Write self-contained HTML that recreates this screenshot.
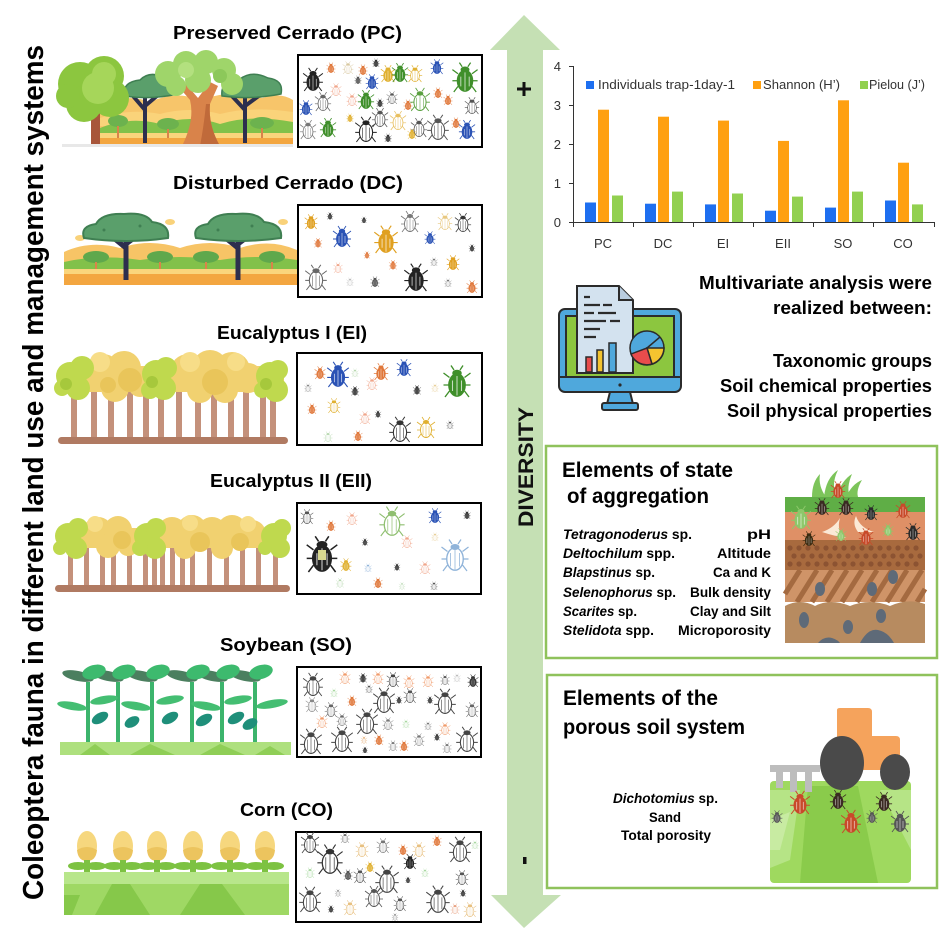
<!DOCTYPE html>
<html><head><meta charset="utf-8"><style>
html,body{margin:0;padding:0;background:#fff;}
svg{display:block;}
text{font-family:"Liberation Sans",Arial,sans-serif;}
</style></head><body>
<svg width="945" height="945" viewBox="0 0 945 945" xmlns="http://www.w3.org/2000/svg">
<defs>
<g id="b1">
<path d="M-5 -3L-9 -6M5 -3L9 -6M-5 2L-9 2M5 2L9 2M-5 6L-8 10M5 6L8 10M-2 -8L-4 -11M2 -8L4 -11" stroke="currentColor" stroke-width=".8" fill="none"/>
<ellipse cx="0" cy="2" rx="5.5" ry="7.5" fill="#fff" stroke="currentColor" stroke-width=".9"/>
<ellipse cx="0" cy="-6" rx="3" ry="2" fill="currentColor"/>
<path d="M0 -4V9M-3 -2V7M3 -2V7" stroke="currentColor" stroke-width=".5"/>
</g>
<g id="b2">
<path d="M-5 -3L-9 -6M5 -3L9 -6M-5 2L-9 2M5 2L9 2M-5 6L-8 10M5 6L8 10M-2 -8L-4 -11M2 -8L4 -11" stroke="currentColor" stroke-width=".9" fill="none"/>
<ellipse cx="0" cy="2" rx="5.5" ry="7.5" fill="currentColor" stroke="currentColor" stroke-width=".8"/>
<ellipse cx="0" cy="-6" rx="3.2" ry="2.2" fill="currentColor"/>
<path d="M0 -4V9M-3 -1V6M3 -1V6" stroke="#fff" stroke-width=".7" opacity=".7"/>
</g>
</defs>

<!-- Big vertical arrow -->
<polygon points="524,15 560,50 543,50 543,895 561,895 524,928 491,895 507,895 507,50 490,50" fill="#c5e0b4"/>
<rect x="517" y="87.5" width="14" height="3" fill="#111"/>
<rect x="522.5" y="82" width="3" height="14" fill="#111"/>
<rect x="523" y="857" width="3.5" height="7" fill="#111"/>
<text transform="translate(533,527) rotate(-90)" font-size="21" font-weight="bold" textLength="120" lengthAdjust="spacingAndGlyphs" fill="#111">DIVERSITY</text>

<!-- Left vertical title -->
<text transform="translate(43,900) rotate(-90)" font-size="29" font-weight="bold" textLength="855" lengthAdjust="spacingAndGlyphs" fill="#000">Coleoptera fauna in different land use and management systems</text>

<!-- Section titles -->
<g font-size="18" font-weight="bold" fill="#000">
<text x="173" y="39" textLength="229" lengthAdjust="spacingAndGlyphs">Preserved Cerrado (PC)</text>
<text x="173" y="189" textLength="230" lengthAdjust="spacingAndGlyphs">Disturbed Cerrado (DC)</text>
<text x="217" y="339" textLength="150" lengthAdjust="spacingAndGlyphs">Eucalyptus I (EI)</text>
<text x="210" y="487" textLength="162" lengthAdjust="spacingAndGlyphs">Eucalyptus II (EII)</text>
<text x="220" y="651" textLength="132" lengthAdjust="spacingAndGlyphs">Soybean (SO)</text>
<text x="240" y="816" textLength="93" lengthAdjust="spacingAndGlyphs">Corn (CO)</text>
</g>

<!-- ============ PC landscape ============ -->
<g>
<path d="M100 146 L100 108 Q125 92 150 102 Q175 90 200 100 Q235 88 262 98 Q280 92 293 100 L293 146 Z" fill="#f7c56a"/>
<path d="M100 118 Q130 108 160 114 Q190 106 220 114 Q250 106 293 112 L293 126 L100 126 Z" fill="#fad37a"/>
<path d="M100 128 Q130 116 160 124 Q190 114 220 124 Q250 114 293 122 L293 134 L100 134 Z" fill="#82c14a"/>
<rect x="100" y="133" width="193" height="5" fill="#fad57c"/>
<rect x="100" y="138" width="193" height="8" fill="#f3a640"/>
<!-- acacia left -->
<path d="M145 143 L145 97 M145 110 L133 96 M145 106 L158 95" stroke="#2d2f4e" stroke-width="4" fill="none"/>
<path d="M124 96 Q122 82 140 80 Q150 70 165 78 Q180 80 178 94 Q150 100 124 96Z" fill="#5a9f6b" stroke="#3f7f52" stroke-width="1.5"/>
<!-- acacia right -->
<path d="M245 143 L245 97 M245 110 L232 96 M245 106 L260 95" stroke="#2d2f4e" stroke-width="4" fill="none"/>
<path d="M222 96 Q220 80 240 79 Q252 70 268 78 Q284 80 281 94 Q250 100 222 96Z" fill="#5a9f6b" stroke="#3f7f52" stroke-width="1.5"/>
<!-- central tree trunk -->
<path d="M182 146 Q195 120 190 100 L178 86 L186 84 L198 98 L210 82 L218 86 L210 104 Q208 125 220 146 Z" fill="#d9834a"/>
<path d="M200 146 Q204 125 206 104 L210 104 Q208 125 220 146Z" fill="#c06a3a"/>
<g fill="#9fd56a">
<circle cx="168" cy="74" r="13"/><circle cx="186" cy="64" r="13"/><circle cx="206" cy="62" r="12"/><circle cx="224" cy="70" r="12"/><circle cx="232" cy="84" r="11"/><circle cx="198" cy="80" r="13"/><circle cx="176" cy="86" r="10"/>
</g>
<circle cx="186" cy="70" r="8" fill="#b3e07f"/><circle cx="220" cy="76" r="7" fill="#8cc85a"/>
<!-- bushes -->
<g fill="#6cb24e"><ellipse cx="118" cy="121" rx="10" ry="6"/><ellipse cx="168" cy="124" rx="11" ry="6"/><ellipse cx="262" cy="123" rx="12" ry="6"/></g>
<g stroke="#d9834a" stroke-width="2"><path d="M118 126V138M168 129V138M262 128V138"/></g>
<!-- big left tree -->
<rect x="91" y="112" width="9" height="34" fill="#a8563a"/>
<g fill="#8cc63f"><circle cx="80" cy="84" r="22"/><circle cx="104" cy="76" r="20"/><circle cx="110" cy="98" r="19"/><circle cx="84" cy="104" r="18"/><circle cx="68" cy="96" r="12"/></g>
<g fill="#a6d65a"><circle cx="98" cy="88" r="16"/><circle cx="104" cy="74" r="12"/></g>
<rect x="62" y="144" width="231" height="3" fill="#e8e8e8"/>
</g>

<!-- ============ DC landscape ============ -->
<g>
<path d="M64 285 L64 252 Q90 240 120 248 Q150 238 180 248 Q210 238 240 248 Q270 238 297 250 L297 285 Z" fill="#f7c466"/>
<path d="M64 262 Q100 254 140 260 Q180 254 220 260 Q260 254 297 260 L297 269 L64 269Z" fill="#82c14a"/>
<g fill="#5fa84c"><ellipse cx="96" cy="257" rx="13" ry="6"/><ellipse cx="160" cy="257" rx="13" ry="6"/><ellipse cx="206" cy="257" rx="13" ry="6"/><ellipse cx="272" cy="257" rx="13" ry="6"/></g>
<g stroke="#d9834a" stroke-width="2"><path d="M96 262V270M160 262V270M206 262V270M272 262V270"/></g>
<rect x="64" y="269" width="233" height="5" fill="#fad57c"/>
<rect x="64" y="274" width="233" height="11" fill="#f3a640"/>
<g fill="#f9d27a"><ellipse cx="80" cy="238" rx="5" ry="3"/><ellipse cx="170" cy="222" rx="5" ry="3"/><ellipse cx="283" cy="222" rx="5" ry="3"/></g>
<path d="M126 280 L126 232 M126 248 L110 235 M126 244 L142 232" stroke="#2d2f4e" stroke-width="5" fill="none"/>
<path d="M238 280 L238 232 M238 248 L222 235 M238 244 L254 232" stroke="#2d2f4e" stroke-width="5" fill="none"/>
<path d="M84 238 Q80 226 96 224 Q102 213 124 214 Q146 212 152 222 Q170 224 168 238 Q126 244 84 238Z" fill="#5a9f6b" stroke="#3f7f52" stroke-width="2"/>
<path d="M196 238 Q192 226 208 224 Q214 213 236 214 Q258 212 264 222 Q283 224 281 238 Q238 244 196 238Z" fill="#5a9f6b" stroke="#3f7f52" stroke-width="2"/>
<g fill="#3f7f52"><circle cx="104" cy="230" r="1.5"/><circle cx="140" cy="226" r="1.5"/><circle cx="218" cy="230" r="1.5"/><circle cx="252" cy="226" r="1.5"/></g>
</g>

<!-- ============ EI landscape ============ -->
<g>
<g fill="#c4917b">
<rect x="71" y="392" width="6" height="48"/><rect x="91" y="392" width="6" height="48"/><rect x="108" y="392" width="6" height="48"/><rect x="127" y="392" width="6" height="48"/><rect x="143" y="392" width="6" height="48"/><rect x="158" y="392" width="6" height="48"/><rect x="176" y="392" width="6" height="48"/><rect x="195" y="392" width="6" height="48"/><rect x="211" y="392" width="6" height="48"/><rect x="228" y="392" width="6" height="48"/><rect x="243" y="392" width="6" height="48"/><rect x="260" y="392" width="6" height="48"/><rect x="270" y="392" width="6" height="48"/>
</g>
<rect x="62" y="366" width="222" height="26" fill="#f1d170"/>
<g fill="#f1d170">
<circle cx="103" cy="372" r="18"/><circle cx="124" cy="368" r="17"/><circle cx="115" cy="388" r="14"/><circle cx="140" cy="385" r="12"/>
<circle cx="188" cy="372" r="18"/><circle cx="210" cy="368" r="18"/><circle cx="232" cy="370" r="18"/><circle cx="248" cy="378" r="15"/><circle cx="200" cy="390" r="13"/><circle cx="225" cy="390" r="13"/>
</g>
<g fill="#e9c55a"><circle cx="130" cy="380" r="12"/><circle cx="215" cy="382" r="13"/><circle cx="108" cy="385" r="8"/></g>
<g fill="#f7dd88"><circle cx="100" cy="362" r="10"/><circle cx="190" cy="362" r="10"/><circle cx="236" cy="362" r="9"/></g>
<g fill="#bfd94e">
<circle cx="70" cy="376" r="14"/><circle cx="82" cy="368" r="12"/><circle cx="78" cy="388" r="12"/><circle cx="62" cy="388" r="8"/>
<circle cx="156" cy="374" r="14"/><circle cx="166" cy="368" r="11"/><circle cx="164" cy="388" r="12"/><circle cx="150" cy="390" r="9"/>
<circle cx="270" cy="376" r="14"/><circle cx="278" cy="370" r="10"/><circle cx="276" cy="390" r="12"/><circle cx="262" cy="390" r="8"/>
</g>
<g fill="#a6c83c"><circle cx="66" cy="384" r="6"/><circle cx="152" cy="382" r="6"/><circle cx="266" cy="384" r="6"/></g>
<rect x="58" y="437" width="230" height="7" rx="3.5" fill="#b07a62"/>
</g>

<!-- ============ EII landscape ============ -->
<g>
<g fill="#c4917b">
<rect x="68" y="548" width="5" height="40"/><rect x="84" y="548" width="5" height="40"/><rect x="100" y="548" width="5" height="40"/><rect x="111" y="548" width="5" height="40"/><rect x="127" y="548" width="5" height="40"/><rect x="143" y="548" width="5" height="40"/><rect x="152" y="548" width="5" height="40"/><rect x="160" y="548" width="5" height="40"/><rect x="170" y="548" width="5" height="40"/><rect x="180" y="548" width="5" height="40"/><rect x="190" y="548" width="5" height="40"/><rect x="207" y="548" width="5" height="40"/><rect x="224" y="548" width="5" height="40"/><rect x="240" y="548" width="5" height="40"/><rect x="256" y="548" width="5" height="40"/><rect x="273" y="548" width="5" height="40"/>
</g>
<rect x="60" y="528" width="226" height="20" fill="#f1d170"/>
<g fill="#f1d170">
<circle cx="98" cy="532" r="15"/><circle cx="118" cy="530" r="14"/><circle cx="108" cy="546" r="12"/>
<circle cx="172" cy="532" r="15"/><circle cx="192" cy="530" r="15"/><circle cx="212" cy="532" r="15"/><circle cx="232" cy="530" r="15"/><circle cx="252" cy="534" r="14"/><circle cx="185" cy="548" r="11"/><circle cx="222" cy="548" r="11"/><circle cx="128" cy="546" r="10"/>
</g>
<g fill="#e9c55a"><circle cx="122" cy="540" r="9"/><circle cx="200" cy="542" r="10"/><circle cx="240" cy="542" r="9"/></g>
<g fill="#f7dd88"><circle cx="95" cy="524" r="8"/><circle cx="190" cy="523" r="8"/><circle cx="248" cy="524" r="8"/></g>
<g fill="#bfd94e">
<circle cx="68" cy="536" r="13"/><circle cx="78" cy="528" r="10"/><circle cx="76" cy="548" r="11"/><circle cx="60" cy="548" r="7"/>
<circle cx="147" cy="536" r="13"/><circle cx="156" cy="528" r="10"/><circle cx="155" cy="548" r="11"/><circle cx="140" cy="548" r="8"/>
<circle cx="274" cy="536" r="13"/><circle cx="282" cy="528" r="9"/><circle cx="280" cy="548" r="10"/><circle cx="265" cy="548" r="7"/>
</g>
<rect x="55" y="585" width="235" height="7" rx="3.5" fill="#b07a62"/>
</g>

<!-- ============ SO landscape ============ -->
<g>
<rect x="60" y="742" width="231" height="13" fill="#aee07e"/>
<g fill="#8fce56"><polygon points="80,755 95,744 110,755"/><polygon points="130,755 150,744 175,755"/><polygon points="200,755 220,744 245,755"/><polygon points="255,755 270,746 285,755"/></g>
<g stroke="#3cb46c" stroke-width="4" fill="none">
<path d="M88 742V682M118 742V682M152 742V682M192 742V682M222 742V682M255 742V682"/>
</g>
<g fill="#4b7f5f">
<ellipse cx="78" cy="676" rx="16" ry="5" transform="rotate(12 78 676)"/><ellipse cx="108" cy="676" rx="16" ry="5" transform="rotate(12 108 676)"/><ellipse cx="142" cy="676" rx="16" ry="5" transform="rotate(12 142 676)"/><ellipse cx="182" cy="676" rx="16" ry="5" transform="rotate(12 182 676)"/><ellipse cx="212" cy="676" rx="16" ry="5" transform="rotate(12 212 676)"/><ellipse cx="245" cy="676" rx="16" ry="5" transform="rotate(12 245 676)"/>
</g>
<g fill="#3dba6e">
<ellipse cx="94" cy="672" rx="12" ry="7" transform="rotate(-15 94 672)"/><ellipse cx="124" cy="672" rx="12" ry="7" transform="rotate(-15 124 672)"/><ellipse cx="158" cy="672" rx="12" ry="7" transform="rotate(-15 158 672)"/><ellipse cx="198" cy="672" rx="12" ry="7" transform="rotate(-15 198 672)"/><ellipse cx="228" cy="672" rx="12" ry="7" transform="rotate(-15 228 672)"/><ellipse cx="261" cy="672" rx="12" ry="7" transform="rotate(-15 261 672)"/>
</g>
<g fill="#44be72">
<ellipse cx="72" cy="706" rx="15" ry="4" transform="rotate(10 72 706)"/><ellipse cx="104" cy="700" rx="14" ry="4" transform="rotate(-10 104 700)"/><ellipse cx="136" cy="706" rx="15" ry="4" transform="rotate(10 136 706)"/><ellipse cx="170" cy="700" rx="14" ry="4" transform="rotate(-10 170 700)"/><ellipse cx="206" cy="706" rx="15" ry="4" transform="rotate(10 206 706)"/><ellipse cx="238" cy="700" rx="14" ry="4" transform="rotate(-10 238 700)"/><ellipse cx="272" cy="704" rx="16" ry="4" transform="rotate(-10 272 704)"/>
</g>
<g fill="#1f8f7a">
<ellipse cx="100" cy="718" rx="9" ry="5" transform="rotate(-30 100 718)"/><ellipse cx="132" cy="722" rx="8" ry="5" transform="rotate(-30 132 722)"/><ellipse cx="170" cy="718" rx="9" ry="5" transform="rotate(-30 170 718)"/><ellipse cx="204" cy="720" rx="9" ry="5" transform="rotate(-30 204 720)"/><ellipse cx="236" cy="718" rx="9" ry="5" transform="rotate(-30 236 718)"/><ellipse cx="250" cy="724" rx="8" ry="5" transform="rotate(-30 250 724)"/>
</g>
</g>

<!-- ============ CO landscape ============ -->
<g>
<rect x="64" y="872" width="225" height="43" fill="#9fd864"/>
<rect x="64" y="872" width="225" height="12" fill="#b8e68b"/>
<g fill="#86c84a"><polygon points="95,915 112,884 130,884 150,915"/><polygon points="180,915 200,884 222,884 245,915"/><polygon points="64,895 80,895 72,915 64,915"/></g>
<g fill="#f6d77e">
<ellipse cx="87" cy="846" rx="10" ry="15"/><ellipse cx="123" cy="846" rx="10" ry="15"/><ellipse cx="157" cy="846" rx="10" ry="15"/><ellipse cx="193" cy="846" rx="10" ry="15"/><ellipse cx="230" cy="846" rx="10" ry="15"/><ellipse cx="265" cy="846" rx="10" ry="15"/>
</g>
<g fill="#ecc45e">
<path d="M77 850 Q87 844 97 850 Q96 861 87 861 Q78 861 77 850Z"/><path d="M113 850 Q123 844 133 850 Q132 861 123 861 Q114 861 113 850Z"/><path d="M147 850 Q157 844 167 850 Q166 861 157 861 Q148 861 147 850Z"/><path d="M183 850 Q193 844 203 850 Q202 861 193 861 Q184 861 183 850Z"/><path d="M220 850 Q230 844 240 850 Q239 861 230 861 Q221 861 220 850Z"/><path d="M255 850 Q265 844 275 850 Q274 861 265 861 Q256 861 255 850Z"/>
</g>
<g fill="#7dc242">
<ellipse cx="78" cy="866" rx="10" ry="4"/><ellipse cx="96" cy="866" rx="10" ry="4"/><rect x="84" y="860" width="6" height="12"/>
<ellipse cx="114" cy="866" rx="10" ry="4"/><ellipse cx="132" cy="866" rx="10" ry="4"/><rect x="120" y="860" width="6" height="12"/>
<ellipse cx="148" cy="866" rx="10" ry="4"/><ellipse cx="166" cy="866" rx="10" ry="4"/><rect x="154" y="860" width="6" height="12"/>
<ellipse cx="184" cy="866" rx="10" ry="4"/><ellipse cx="202" cy="866" rx="10" ry="4"/><rect x="190" y="860" width="6" height="12"/>
<ellipse cx="221" cy="866" rx="10" ry="4"/><ellipse cx="239" cy="866" rx="10" ry="4"/><rect x="227" y="860" width="6" height="12"/>
<ellipse cx="256" cy="866" rx="10" ry="4"/><ellipse cx="274" cy="866" rx="10" ry="4"/><rect x="262" y="860" width="6" height="12"/>
</g>
</g>

<!-- ============ Beetle boxes ============ -->
<g fill="#fff" stroke="#000" stroke-width="2">
<rect x="298" y="55" width="184" height="92"/>
<rect x="298" y="205" width="184" height="92"/>
<rect x="297" y="353" width="185" height="92"/>
<rect x="297" y="503" width="184" height="91"/>
<rect x="297" y="667" width="184" height="90"/>
<rect x="296" y="832" width="185" height="90"/>
</g>

<!-- PC beetles -->
<g>
<use href="#b2" transform="translate(313 80) scale(1.1)" color="#222"/>
<use href="#b2" transform="translate(331 68) scale(.5)" color="#e0773a"/>
<use href="#b1" transform="translate(348 68) scale(.6)" color="#d8c8a0"/>
<use href="#b2" transform="translate(363 70) scale(.5)" color="#e0773a"/>
<use href="#b2" transform="translate(376 63) scale(.4)" color="#333"/>
<use href="#b2" transform="translate(388 74) scale(.8)" color="#e0b030"/>
<use href="#b2" transform="translate(400 73) scale(.9)" color="#3f8f2a"/>
<use href="#b1" transform="translate(415 74) scale(.8)" color="#e0b030"/>
<use href="#b2" transform="translate(437 67) scale(.7)" color="#2a52b5"/>
<use href="#b2" transform="translate(465 78) scale(1.4)" color="#3f8f2a"/>
<use href="#b2" transform="translate(306 108) scale(.7)" color="#2a52b5"/>
<use href="#b1" transform="translate(323 102) scale(.9)" color="#666"/>
<use href="#b1" transform="translate(336 90) scale(.6)" color="#f0a58a"/>
<use href="#b1" transform="translate(352 100) scale(.6)" color="#f0a58a"/>
<use href="#b2" transform="translate(358 80) scale(.4)" color="#555"/>
<use href="#b2" transform="translate(372 82) scale(.7)" color="#2a52b5"/>
<use href="#b2" transform="translate(366 100) scale(.9)" color="#3f8f2a"/>
<use href="#b2" transform="translate(380 103) scale(.4)" color="#333"/>
<use href="#b1" transform="translate(392 98) scale(.6)" color="#555"/>
<use href="#b2" transform="translate(408 105) scale(.5)" color="#e0773a"/>
<use href="#b1" transform="translate(420 100) scale(1.1)" color="#5aa040"/>
<use href="#b2" transform="translate(438 93) scale(.5)" color="#e0773a"/>
<use href="#b2" transform="translate(448 100) scale(.5)" color="#e0773a"/>
<use href="#b1" transform="translate(472 106) scale(.8)" color="#555"/>
<use href="#b1" transform="translate(308 130) scale(.9)" color="#777"/>
<use href="#b2" transform="translate(328 128) scale(.9)" color="#3f8f2a"/>
<use href="#b2" transform="translate(350 118) scale(.4)" color="#e0b030"/>
<use href="#b1" transform="translate(366 130) scale(1.2)" color="#222"/>
<use href="#b1" transform="translate(380 118) scale(.9)" color="#555"/>
<use href="#b1" transform="translate(398 121) scale(.9)" color="#e8c060"/>
<use href="#b1" transform="translate(419 128) scale(.9)" color="#555"/>
<use href="#b1" transform="translate(438 128) scale(1.2)" color="#555"/>
<use href="#b2" transform="translate(456 123) scale(.5)" color="#e0773a"/>
<use href="#b2" transform="translate(467 130) scale(.9)" color="#2a52b5"/>
<use href="#b2" transform="translate(388 138) scale(.4)" color="#333"/>
<use href="#b2" transform="translate(412 134) scale(.5)" color="#e0b030"/>
</g>
<!-- DC beetles -->
<g>
<use href="#b2" transform="translate(311 222) scale(.7)" color="#e0a020"/>
<use href="#b2" transform="translate(330 216) scale(.35)" color="#333"/>
<use href="#b2" transform="translate(342 237) scale(1)" color="#2a52b5"/>
<use href="#b2" transform="translate(364 220) scale(.3)" color="#333"/>
<use href="#b2" transform="translate(318 243) scale(.45)" color="#e0773a"/>
<use href="#b2" transform="translate(386 240) scale(1.3)" color="#e0a020"/>
<use href="#b1" transform="translate(410 222) scale(1)" color="#777"/>
<use href="#b1" transform="translate(445 222) scale(.8)" color="#e8c880"/>
<use href="#b1" transform="translate(463 223) scale(.9)" color="#333"/>
<use href="#b2" transform="translate(430 238) scale(.6)" color="#2a52b5"/>
<use href="#b2" transform="translate(472 248) scale(.35)" color="#333"/>
<use href="#b2" transform="translate(367 255) scale(.35)" color="#e0773a"/>
<use href="#b1" transform="translate(338 268) scale(.5)" color="#f0a58a"/>
<use href="#b1" transform="translate(316 278) scale(1.2)" color="#666"/>
<use href="#b1" transform="translate(350 282) scale(.4)" color="#bbb"/>
<use href="#b2" transform="translate(375 282) scale(.5)" color="#555"/>
<use href="#b2" transform="translate(393 265) scale(.45)" color="#e0773a"/>
<use href="#b2" transform="translate(416 278) scale(1.3)" color="#222"/>
<use href="#b1" transform="translate(434 262) scale(.4)" color="#777"/>
<use href="#b2" transform="translate(453 263) scale(.7)" color="#e0a020"/>
<use href="#b1" transform="translate(448 283) scale(.4)" color="#777"/>
<use href="#b2" transform="translate(472 287) scale(.6)" color="#e0773a"/>
</g>
<!-- EI beetles -->
<g>
<use href="#b2" transform="translate(320 373) scale(.6)" color="#e0773a"/>
<use href="#b2" transform="translate(338 375) scale(1.2)" color="#2a52b5"/>
<use href="#b1" transform="translate(355 373) scale(.4)" color="#b8d8b0"/>
<use href="#b2" transform="translate(381 372) scale(.8)" color="#e0773a"/>
<use href="#b2" transform="translate(404 368) scale(.8)" color="#2a52b5"/>
<use href="#b2" transform="translate(457 382) scale(1.5)" color="#3f8f2a"/>
<use href="#b1" transform="translate(308 388) scale(.4)" color="#888"/>
<use href="#b2" transform="translate(355 391) scale(.45)" color="#333"/>
<use href="#b1" transform="translate(372 384) scale(.6)" color="#f0a58a"/>
<use href="#b2" transform="translate(417 390) scale(.45)" color="#333"/>
<use href="#b1" transform="translate(435 388) scale(.4)" color="#e8d09a"/>
<use href="#b2" transform="translate(312 409) scale(.5)" color="#e0773a"/>
<use href="#b1" transform="translate(334 406) scale(.7)" color="#e0b030"/>
<use href="#b1" transform="translate(365 418) scale(.6)" color="#f0a58a"/>
<use href="#b2" transform="translate(378 414) scale(.35)" color="#333"/>
<use href="#b1" transform="translate(400 430) scale(1.2)" color="#333"/>
<use href="#b1" transform="translate(426 428) scale(1)" color="#e0b030"/>
<use href="#b1" transform="translate(450 425) scale(.4)" color="#555"/>
<use href="#b1" transform="translate(328 437) scale(.5)" color="#b8d8b0"/>
<use href="#b2" transform="translate(358 436) scale(.5)" color="#e0773a"/>
</g>
<!-- EII beetles -->
<g>
<use href="#b1" transform="translate(307 517) scale(.7)" color="#555"/>
<use href="#b2" transform="translate(331 526) scale(.5)" color="#e0773a"/>
<use href="#b1" transform="translate(352 519) scale(.6)" color="#f0a58a"/>
<use href="#b1" transform="translate(392 522) scale(1.4)" color="#8fbf70"/>
<use href="#b2" transform="translate(435 516) scale(.7)" color="#2a52b5"/>
<use href="#b2" transform="translate(467 515) scale(.4)" color="#333"/>
<use href="#b2" transform="translate(322 555) scale(1.7)" color="#222"/>
<rect x="318" y="550" width="8" height="10" fill="#d8d890"/>
<use href="#b2" transform="translate(365 542) scale(.35)" color="#333"/>
<use href="#b1" transform="translate(407 542) scale(.6)" color="#f0a58a"/>
<use href="#b1" transform="translate(435 537) scale(.4)" color="#e8d09a"/>
<use href="#b1" transform="translate(455 556) scale(1.5)" color="#8fb3d9"/>
<use href="#b2" transform="translate(346 565) scale(.6)" color="#e0b030"/>
<use href="#b1" transform="translate(368 568) scale(.4)" color="#8fb3d9"/>
<use href="#b2" transform="translate(397 567) scale(.35)" color="#333"/>
<use href="#b1" transform="translate(425 568) scale(.6)" color="#f0a58a"/>
<use href="#b1" transform="translate(340 583) scale(.45)" color="#b8d8b0"/>
<use href="#b2" transform="translate(378 583) scale(.5)" color="#e0773a"/>
<use href="#b1" transform="translate(402 586) scale(.35)" color="#b8d8b0"/>
<use href="#b1" transform="translate(434 586) scale(.4)" color="#555"/>
</g>
<!-- SO beetles -->
<g>
<use href="#b1" transform="translate(313 685) scale(1.1)" color="#444"/>
<use href="#b1" transform="translate(345 678) scale(.6)" color="#f09a6a"/>
<use href="#b2" transform="translate(363 678) scale(.45)" color="#333"/>
<use href="#b1" transform="translate(378 678) scale(.6)" color="#f09a6a"/>
<use href="#b1" transform="translate(393 680) scale(.7)" color="#444"/>
<use href="#b1" transform="translate(409 682) scale(.6)" color="#f09a6a"/>
<use href="#b1" transform="translate(428 681) scale(.6)" color="#f09a6a"/>
<use href="#b1" transform="translate(445 680) scale(.5)" color="#555"/>
<use href="#b1" transform="translate(457 678) scale(.4)" color="#bbb"/>
<use href="#b2" transform="translate(473 681) scale(.6)" color="#333"/>
<use href="#b1" transform="translate(369 689) scale(.4)" color="#555"/>
<use href="#b1" transform="translate(312 705) scale(.7)" color="#888"/>
<use href="#b1" transform="translate(331 710) scale(.7)" color="#666"/>
<use href="#b1" transform="translate(334 693) scale(.4)" color="#a8d8a0"/>
<use href="#b2" transform="translate(352 701) scale(.5)" color="#e0773a"/>
<use href="#b1" transform="translate(384 701) scale(1.2)" color="#444"/>
<use href="#b2" transform="translate(399 700) scale(.35)" color="#333"/>
<use href="#b1" transform="translate(410 696) scale(.7)" color="#555"/>
<use href="#b2" transform="translate(430 700) scale(.35)" color="#333"/>
<use href="#b1" transform="translate(445 702) scale(1.2)" color="#444"/>
<use href="#b1" transform="translate(472 710) scale(.7)" color="#666"/>
<use href="#b1" transform="translate(322 722) scale(.6)" color="#f09a6a"/>
<use href="#b1" transform="translate(342 720) scale(.6)" color="#666"/>
<use href="#b1" transform="translate(367 722) scale(1.2)" color="#444"/>
<use href="#b1" transform="translate(388 724) scale(.6)" color="#777"/>
<use href="#b1" transform="translate(406 724) scale(.4)" color="#a8d8a0"/>
<use href="#b1" transform="translate(428 726) scale(.4)" color="#777"/>
<use href="#b1" transform="translate(445 729) scale(.6)" color="#f09a6a"/>
<use href="#b1" transform="translate(311 742) scale(1.2)" color="#444"/>
<use href="#b1" transform="translate(342 740) scale(1.2)" color="#444"/>
<use href="#b1" transform="translate(364 740) scale(.35)" color="#e0a060"/>
<use href="#b2" transform="translate(379 740) scale(.5)" color="#e0773a"/>
<use href="#b1" transform="translate(393 746) scale(.5)" color="#777"/>
<use href="#b2" transform="translate(404 746) scale(.5)" color="#e0773a"/>
<use href="#b1" transform="translate(419 740) scale(.6)" color="#777"/>
<use href="#b2" transform="translate(437 737) scale(.35)" color="#333"/>
<use href="#b1" transform="translate(447 748) scale(.5)" color="#777"/>
<use href="#b1" transform="translate(467 740) scale(1.2)" color="#444"/>
<use href="#b2" transform="translate(365 750) scale(.3)" color="#333"/>
</g>
<!-- CO beetles -->
<g>
<use href="#b1" transform="translate(310 843) scale(1)" color="#444"/>
<use href="#b1" transform="translate(330 860) scale(1.4)" color="#333"/>
<use href="#b1" transform="translate(345 838) scale(.5)" color="#666"/>
<use href="#b1" transform="translate(362 850) scale(.7)" color="#e8c080"/>
<use href="#b1" transform="translate(383 846) scale(.7)" color="#777"/>
<use href="#b2" transform="translate(403 850) scale(.5)" color="#e0773a"/>
<use href="#b1" transform="translate(419 850) scale(.7)" color="#e8c080"/>
<use href="#b2" transform="translate(437 841) scale(.5)" color="#e0773a"/>
<use href="#b1" transform="translate(460 850) scale(1.2)" color="#444"/>
<use href="#b1" transform="translate(475 845) scale(.4)" color="#a8d8a0"/>
<use href="#b1" transform="translate(310 873) scale(.5)" color="#a8d8a0"/>
<use href="#b2" transform="translate(348 875) scale(.5)" color="#555"/>
<use href="#b1" transform="translate(360 876) scale(.7)" color="#555"/>
<use href="#b2" transform="translate(370 867) scale(.5)" color="#e0b030"/>
<use href="#b1" transform="translate(387 880) scale(1.3)" color="#444"/>
<use href="#b2" transform="translate(410 862) scale(.7)" color="#222"/>
<use href="#b2" transform="translate(408 880) scale(.3)" color="#333"/>
<use href="#b1" transform="translate(425 873) scale(.4)" color="#a8d8a0"/>
<use href="#b1" transform="translate(462 878) scale(.7)" color="#555"/>
<use href="#b1" transform="translate(310 900) scale(1.2)" color="#444"/>
<use href="#b2" transform="translate(331 909) scale(.35)" color="#333"/>
<use href="#b1" transform="translate(350 908) scale(.7)" color="#e8c080"/>
<use href="#b1" transform="translate(338 893) scale(.35)" color="#777"/>
<use href="#b1" transform="translate(374 897) scale(1)" color="#555"/>
<use href="#b1" transform="translate(400 904) scale(.7)" color="#555"/>
<use href="#b1" transform="translate(395 917) scale(.35)" color="#777"/>
<use href="#b1" transform="translate(438 900) scale(1.3)" color="#444"/>
<use href="#b1" transform="translate(455 909) scale(.5)" color="#e8a080"/>
<use href="#b1" transform="translate(470 910) scale(.7)" color="#e8c080"/>
<use href="#b2" transform="translate(463 893) scale(.35)" color="#333"/>
</g>

<!-- ============ Chart ============ -->
<g>
<g fill="#1e6ff0">
<rect x="585" y="202.5" width="11" height="19.5"/><rect x="645" y="203.7" width="11" height="18.3"/><rect x="705" y="204.4" width="11" height="17.6"/><rect x="765" y="210.7" width="11" height="11.3"/><rect x="825" y="207.6" width="11" height="14.4"/><rect x="885" y="200.5" width="11" height="21.5"/>
</g>
<g fill="#ffa010">
<rect x="598" y="109.7" width="11" height="112.3"/><rect x="658" y="116.7" width="11" height="105.3"/><rect x="718" y="120.6" width="11" height="101.4"/><rect x="778" y="140.9" width="11" height="81.1"/><rect x="838" y="100.3" width="11" height="121.7"/><rect x="898" y="162.7" width="11" height="59.3"/>
</g>
<g fill="#92d050">
<rect x="612" y="195.5" width="11" height="26.5"/><rect x="672" y="191.6" width="11" height="30.4"/><rect x="732" y="193.5" width="11" height="28.5"/><rect x="792" y="196.6" width="11" height="25.4"/><rect x="852" y="191.6" width="11" height="30.4"/><rect x="912" y="204.4" width="11" height="17.6"/>
</g>
<g stroke="#333" stroke-width="1" fill="none">
<path d="M573.5 66V222.5H935"/>
<path d="M569 66.5H573.5M569 105.5H573.5M569 144.5H573.5M569 183.5H573.5M569 222.5H573.5"/>
<path d="M573.5 222V227M633.5 222V227M693.5 222V227M753.5 222V227M813.5 222V227M873.5 222V227M934.5 222V227"/>
</g>
<g font-size="13" fill="#333" text-anchor="end">
<text x="561" y="71">4</text><text x="561" y="110">3</text><text x="561" y="149">2</text><text x="561" y="188">1</text><text x="561" y="227">0</text>
</g>
<g font-size="13" fill="#333" text-anchor="middle">
<text x="603" y="248">PC</text><text x="663" y="248">DC</text><text x="723" y="248">EI</text><text x="783" y="248">EII</text><text x="843" y="248">SO</text><text x="903" y="248">CO</text>
</g>
<rect x="586" y="81" width="8" height="8" fill="#1e6ff0"/>
<rect x="753" y="81" width="8" height="8" fill="#ffa010"/>
<rect x="860" y="81" width="8" height="8" fill="#92d050"/>
<g font-size="13" fill="#333">
<text x="598" y="89" textLength="137" lengthAdjust="spacingAndGlyphs">Individuals trap-1day-1</text>
<text x="763" y="89" textLength="77" lengthAdjust="spacingAndGlyphs">Shannon (H’)</text>
<text x="869" y="89" textLength="56" lengthAdjust="spacingAndGlyphs">Pielou (J’)</text>
</g>
</g>

<!-- ============ Monitor icon ============ -->
<g stroke="#2b2b2b" stroke-width="2">
<path d="M610 392 L630 392 L633 404 L607 404 Z" fill="#4fa8dc"/>
<rect x="602" y="403" width="36" height="7" rx="2" fill="#4fa8dc"/>
<rect x="559" y="309" width="122" height="83" rx="6" fill="#4fa8dc"/>
<rect x="566" y="316" width="108" height="61" fill="#8cc63f"/>
<path d="M559 377 H681" fill="none"/>
<circle cx="620" cy="385" r="1.6" fill="#2b2b2b" stroke="none"/>
<path d="M577 286 H619 L633 300 V373 H577 Z" fill="#d3e2ef"/>
<path d="M619 286 V300 H633" fill="#b9cde0"/>
</g>
<g stroke="#2b2b2b" stroke-width="2.2">
<path d="M584 297H590M584 305H600M603 305H612M584 313H594M598 313H616M584 321H606M610 321H620M584 329H600M584 337H596"/>
</g>
<g stroke="#2b2b2b" stroke-width="1.5">
<rect x="586" y="357" width="6" height="15" fill="#e84c4c"/>
<rect x="597" y="350" width="6" height="22" fill="#f4c430"/>
<rect x="609" y="343" width="7" height="29" fill="#4fa8dc"/>
<circle cx="647" cy="348" r="17" fill="#4fa8dc"/>
<path d="M647 348 L664 348 A17 17 0 0 1 652 364 Z" fill="#f4c430"/>
<path d="M647 348 L652 364 A17 17 0 0 1 631 354 Z" fill="#e84c4c"/>
<path d="M647 348 L660 337" fill="none"/>
</g>

<!-- Multivariate text -->
<g font-size="18" font-weight="bold" fill="#000">
<text x="699" y="289" textLength="233" lengthAdjust="spacingAndGlyphs">Multivariate analysis were</text>
<text x="773" y="314" textLength="159" lengthAdjust="spacingAndGlyphs">realized between:</text>
<text x="773" y="367" textLength="159" lengthAdjust="spacingAndGlyphs">Taxonomic groups</text>
<text x="720" y="392" textLength="212" lengthAdjust="spacingAndGlyphs">Soil chemical properties</text>
<text x="727" y="417" textLength="205" lengthAdjust="spacingAndGlyphs">Soil physical properties</text>
</g>

<!-- ============ Box 1 ============ -->
<rect x="546" y="446" width="391" height="212" fill="#fff" stroke="#8fc25c" stroke-width="2.5"/>
<g font-size="21" font-weight="bold" fill="#000">
<text x="562" y="477" textLength="171" lengthAdjust="spacingAndGlyphs">Elements of state</text>
<text x="567" y="503" textLength="142" lengthAdjust="spacingAndGlyphs">of aggregation</text>
</g>
<g font-size="14" font-weight="bold" fill="#000">
<text x="563" y="539" textLength="129" lengthAdjust="spacingAndGlyphs"><tspan font-style="italic">Tetragonoderus</tspan> sp.</text>
<text x="563" y="558" textLength="112" lengthAdjust="spacingAndGlyphs"><tspan font-style="italic">Deltochilum</tspan> spp.</text>
<text x="563" y="577" textLength="92" lengthAdjust="spacingAndGlyphs"><tspan font-style="italic">Blapstinus</tspan> sp.</text>
<text x="563" y="597" textLength="113" lengthAdjust="spacingAndGlyphs"><tspan font-style="italic">Selenophorus</tspan> sp.</text>
<text x="563" y="616" textLength="74" lengthAdjust="spacingAndGlyphs"><tspan font-style="italic">Scarites</tspan> sp.</text>
<text x="563" y="635" textLength="91" lengthAdjust="spacingAndGlyphs"><tspan font-style="italic">Stelidota</tspan> spp.</text>
<text x="747" y="539" textLength="24" lengthAdjust="spacingAndGlyphs">pH</text>
<text x="717" y="558" textLength="54" lengthAdjust="spacingAndGlyphs">Altitude</text>
<text x="713" y="577" textLength="58" lengthAdjust="spacingAndGlyphs">Ca and K</text>
<text x="690" y="597" textLength="81" lengthAdjust="spacingAndGlyphs">Bulk density</text>
<text x="690" y="616" textLength="81" lengthAdjust="spacingAndGlyphs">Clay and Silt</text>
<text x="678" y="635" textLength="93" lengthAdjust="spacingAndGlyphs">Microporosity</text>
</g>
<!-- soil image -->
<g>
<path d="M812 497 Q812 482 820 474 Q818 486 826 497Z M824 497 Q826 478 838 470 Q830 486 838 497Z M836 497 Q842 480 852 474 Q846 488 850 497Z M846 497 Q852 484 862 480 Q856 490 858 497Z" fill="#7cc45a"/>
<rect x="785" y="497" width="140" height="15" fill="#5fae46"/>
<rect x="785" y="512" width="140" height="28" fill="#df9066"/>
<rect x="785" y="540" width="140" height="30" fill="#a86a3e"/>
<g fill="#8c5332">
<circle cx="790" cy="548" r="2.6"/><circle cx="799" cy="548" r="2.6"/><circle cx="808" cy="548" r="2.6"/><circle cx="817" cy="548" r="2.6"/><circle cx="826" cy="548" r="2.6"/><circle cx="835" cy="548" r="2.6"/><circle cx="844" cy="548" r="2.6"/><circle cx="853" cy="548" r="2.6"/><circle cx="862" cy="548" r="2.6"/><circle cx="871" cy="548" r="2.6"/><circle cx="880" cy="548" r="2.6"/><circle cx="889" cy="548" r="2.6"/><circle cx="898" cy="548" r="2.6"/><circle cx="907" cy="548" r="2.6"/><circle cx="916" cy="548" r="2.6"/>
<circle cx="794" cy="556" r="2.6"/><circle cx="803" cy="556" r="2.6"/><circle cx="812" cy="556" r="2.6"/><circle cx="821" cy="556" r="2.6"/><circle cx="830" cy="556" r="2.6"/><circle cx="839" cy="556" r="2.6"/><circle cx="848" cy="556" r="2.6"/><circle cx="857" cy="556" r="2.6"/><circle cx="866" cy="556" r="2.6"/><circle cx="875" cy="556" r="2.6"/><circle cx="884" cy="556" r="2.6"/><circle cx="893" cy="556" r="2.6"/><circle cx="902" cy="556" r="2.6"/><circle cx="911" cy="556" r="2.6"/><circle cx="920" cy="556" r="2.6"/>
<circle cx="790" cy="564" r="2.6"/><circle cx="799" cy="564" r="2.6"/><circle cx="808" cy="564" r="2.6"/><circle cx="817" cy="564" r="2.6"/><circle cx="826" cy="564" r="2.6"/><circle cx="835" cy="564" r="2.6"/><circle cx="844" cy="564" r="2.6"/><circle cx="853" cy="564" r="2.6"/><circle cx="862" cy="564" r="2.6"/><circle cx="871" cy="564" r="2.6"/><circle cx="880" cy="564" r="2.6"/><circle cx="889" cy="564" r="2.6"/><circle cx="898" cy="564" r="2.6"/><circle cx="907" cy="564" r="2.6"/><circle cx="916" cy="564" r="2.6"/>
</g>
<rect x="785" y="570" width="140" height="32" fill="#cf9468"/>
<g stroke="#a46a40" stroke-width="5">
<path d="M785 594L800 570M797 602L817 570M812 602L832 570M827 602L847 570M842 602L862 570M857 602L877 570M872 602L892 570M887 602L907 570M902 602L922 570M917 602L925 589"/>
</g>
<path d="M785 643 V606 Q800 598 815 606 Q830 598 850 606 Q870 598 890 606 Q908 598 925 604 V643Z" fill="#b78b60"/>
<g fill="#5e6a78">
<ellipse cx="820" cy="589" rx="5" ry="7"/><ellipse cx="872" cy="589" rx="5" ry="7"/><ellipse cx="893" cy="577" rx="5" ry="7"/>
<ellipse cx="804" cy="620" rx="5" ry="8"/><ellipse cx="848" cy="627" rx="5" ry="7"/><ellipse cx="881" cy="616" rx="5" ry="7"/>
<path d="M860 643 Q868 628 878 630 Q888 632 894 643Z"/><path d="M818 643 Q824 636 832 638 Q838 640 840 643Z"/>
</g>
<path d="M822 532 Q834 528 840 518 Q836 532 846 538 Q834 536 822 532Z M858 532 Q852 524 856 516 Q860 528 874 532Z" fill="#fbe9d6"/>
<use href="#b2" transform="translate(801 518) scale(1.1)" color="#8dc86a"/>
<use href="#b2" transform="translate(822 507) scale(.8)" color="#3a2a22"/>
<use href="#b2" transform="translate(846 507) scale(.8)" color="#3a2a22"/>
<use href="#b2" transform="translate(871 513) scale(.7)" color="#2a2a2a"/>
<use href="#b2" transform="translate(903 510) scale(.8)" color="#c84a2a"/>
<use href="#b2" transform="translate(838 490) scale(.8)" color="#c84a2a"/>
<use href="#b2" transform="translate(841 535) scale(.6)" color="#8dc86a"/>
<use href="#b2" transform="translate(866 537) scale(.8)" color="#c84a2a"/>
<use href="#b2" transform="translate(888 530) scale(.6)" color="#8dc86a"/>
<use href="#b2" transform="translate(913 532) scale(.8)" color="#2a2a2a"/>
<use href="#b2" transform="translate(809 539) scale(.7)" color="#3a2a10"/>
</g>

<!-- ============ Box 2 ============ -->
<rect x="547" y="675" width="390" height="213" fill="#fff" stroke="#8fc25c" stroke-width="2.5"/>
<g font-size="21" font-weight="bold" fill="#000">
<text x="563" y="705" textLength="155" lengthAdjust="spacingAndGlyphs">Elements of the</text>
<text x="563" y="734" textLength="182" lengthAdjust="spacingAndGlyphs">porous soil system</text>
</g>
<g font-size="14" font-weight="bold" fill="#000">
<text x="613" y="803" textLength="105" lengthAdjust="spacingAndGlyphs"><tspan font-style="italic">Dichotomius</tspan> sp.</text>
<text x="649" y="822" textLength="32" lengthAdjust="spacingAndGlyphs">Sand</text>
<text x="621" y="840" textLength="90" lengthAdjust="spacingAndGlyphs">Total porosity</text>
</g>
<!-- tractor image -->
<g>
<rect x="770" y="781" width="141" height="102" rx="4" fill="#9fd95f"/>
<polygon points="770,790 800,790 790,860 770,868" fill="#b6e486"/>
<polygon points="808,786 858,786 878,883 800,883" fill="#8acb4b"/>
<polygon points="880,790 911,790 911,850" fill="#b6e486"/>
<polygon points="770,820 790,812 780,850 770,850" fill="#c8eba2"/>
<path d="M770 765 H820 V772 H812 V792 H805 V772 H797 V792 H790 V772 H783 V788 H776 V772 H770Z" fill="#bdbdbd"/>
<path d="M837 710 Q837 708 840 708 H868 Q872 708 872 712 V736 H896 Q900 736 900 740 V770 H837Z" fill="#f5a35c"/>
<ellipse cx="842" cy="763" rx="22" ry="27" fill="#4a4a4a"/>
<ellipse cx="895" cy="772" rx="15" ry="18" fill="#4a4a4a"/>
<use href="#b2" transform="translate(800 803) scale(1.1)" color="#c84a2a"/>
<use href="#b2" transform="translate(838 800) scale(.9)" color="#3a2a22"/>
<use href="#b2" transform="translate(884 802) scale(.9)" color="#3a2a22"/>
<use href="#b2" transform="translate(851 822) scale(1.1)" color="#c84a2a"/>
<use href="#b2" transform="translate(777 817) scale(.6)" color="#555"/>
<use href="#b2" transform="translate(872 817) scale(.6)" color="#555"/>
<use href="#b2" transform="translate(900 822) scale(1)" color="#555"/>
</g>
</svg>
</body></html>
